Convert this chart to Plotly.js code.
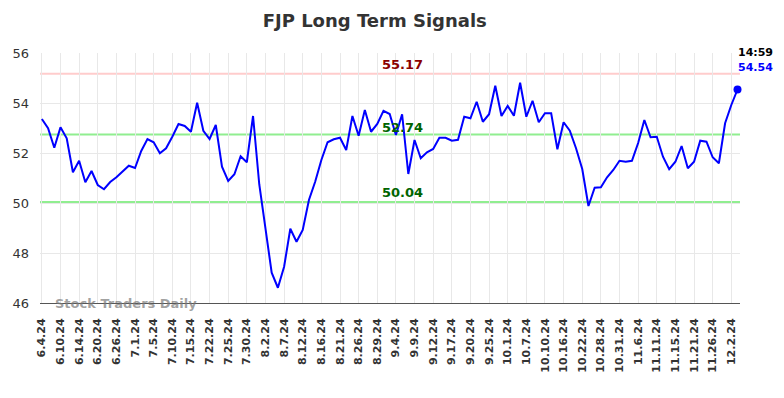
<!DOCTYPE html>
<html>
<head>
<meta charset="utf-8">
<script src="https://cdn.plot.ly/plotly-3.0.1.min.js"></script>
<style>html,body{margin:0;padding:0;background:#fff;}#chart{width:784px;height:398px;}</style>
</head>
<body>
<div id="chart"></div>
<script>
const values = [
  53.36, 52.99, 52.21, 53.03, 52.59, 51.23, 51.69, 50.83, 51.28, 50.72,
  50.55, 50.84, 51.03, 51.28, 51.49, 51.40, 52.08, 52.56, 52.43, 51.99,
  52.19, 52.65, 53.16, 53.08, 52.85, 54.01, 52.89, 52.56, 53.12, 51.45,
  50.88, 51.15, 51.87, 51.63, 53.48, 50.75, 48.92, 47.21, 46.61, 47.45,
  48.97, 48.45, 48.92, 50.12, 50.85, 51.72, 52.43, 52.55, 52.61, 52.12,
  53.48, 52.69, 53.72, 52.85, 53.16, 53.69, 53.56, 52.72, 53.55, 51.16,
  52.52, 51.79, 52.03, 52.16, 52.61, 52.61, 52.49, 52.53, 53.45, 53.39,
  54.05, 53.25, 53.55, 54.69, 53.48, 53.88, 53.49, 54.81, 53.45, 54.09,
  53.23, 53.59, 53.59, 52.15, 53.23, 52.89, 52.19, 51.36, 49.88, 50.61,
  50.63, 51.03, 51.32, 51.69, 51.65, 51.69, 52.40, 53.32, 52.63, 52.65,
  51.85, 51.35, 51.65, 52.28, 51.39, 51.65, 52.49, 52.45, 51.83, 51.59,
  53.19, 53.92, 54.54
];
const tickLabels = [
  "6.4.24","6.10.24","6.14.24","6.20.24","6.26.24","7.1.24","7.5.24","7.10.24",
  "7.15.24","7.22.24","7.25.24","7.30.24","8.2.24","8.7.24","8.12.24","8.16.24",
  "8.21.24","8.26.24","8.29.24","9.4.24","9.9.24","9.12.24","9.17.24","9.20.24",
  "9.25.24","10.1.24","10.7.24","10.10.24","10.16.24","10.22.24","10.28.24","10.31.24",
  "11.6.24","11.11.24","11.15.24","11.21.24","11.26.24","12.2.24"
];
const tickStep = 3;
const resistance = 55.17;
const supportHigh = 52.74;
const supportLow = 50.04;
const lastTime = "14:59";

const xs = values.map((v, i) => i);
const tickVals = tickLabels.map((t, i) => i * tickStep);
const lastIdx = values.length - 1;
const lastVal = values[lastIdx];
const labelX = 58;

const traces = [
  {x: xs, y: values, type: 'scatter', mode: 'lines',
   line: {color: '#0000ff', width: 2}, hoverinfo: 'skip'},
  {x: [lastIdx], y: [lastVal], type: 'scatter', mode: 'markers', cliponaxis: false,
   marker: {color: '#0000ff', size: 8}, hoverinfo: 'skip'}
];

const hline = (y, color) => ({type: 'line', xref: 'paper', x0: 0, x1: 1, y0: y, y1: y,
  line: {color: color, width: 2}, layer: 'below'});

const layout = {
  width: 784, height: 398,
  margin: {l: 40, r: 44, t: 53, b: 95},
  paper_bgcolor: '#ffffff', plot_bgcolor: '#ffffff',
  showlegend: false,
  title: {text: 'FJP Long Term Signals', x: 0.478, xanchor: 'center', y: 0.965, yanchor: 'top',
    font: {family: 'DejaVu Sans', size: 18, color: '#333333', weight: 'bold'}},
  xaxis: {range: [-0.3, 112.4], tickvals: tickVals, ticktext: tickLabels, tickangle: -90,
    showgrid: true, gridcolor: '#e8e8e8', gridwidth: 1, zeroline: false,
    showline: true, linecolor: '#555555', linewidth: 1,
    ticks: '', ticklabelstandoff: 10,
    tickfont: {family: 'DejaVu Sans', size: 11, color: '#333333', weight: 'bold'}},
  yaxis: {range: [46, 56], tickvals: [46, 48, 50, 52, 54, 56],
    showgrid: true, gridcolor: '#e8e8e8', gridwidth: 1, zeroline: false,
    showline: false, ticks: '', ticklabelstandoff: 10,
    tickfont: {family: 'DejaVu Sans', size: 13, color: '#333333'}},
  shapes: [hline(resistance, '#ffcccc'), hline(supportHigh, '#90ee90'), hline(supportLow, '#90ee90')],
  annotations: [
    {x: labelX, y: resistance, xref: 'x', yref: 'y', text: resistance.toFixed(2), showarrow: false,
     yanchor: 'bottom', yshift: 0, font: {family: 'DejaVu Sans', size: 13, color: '#8b0000', weight: 'bold'}},
    {x: labelX, y: supportHigh, xref: 'x', yref: 'y', text: supportHigh.toFixed(2), showarrow: false,
     yanchor: 'middle', yshift: 7, font: {family: 'DejaVu Sans', size: 13, color: '#006400', weight: 'bold'}},
    {x: labelX, y: supportLow, xref: 'x', yref: 'y', text: supportLow.toFixed(2), showarrow: false,
     yanchor: 'bottom', yshift: 0, font: {family: 'DejaVu Sans', size: 13, color: '#006400', weight: 'bold'}},
    {x: lastIdx, y: lastVal, xref: 'x', yref: 'y', text: lastTime, showarrow: false,
     xanchor: 'left', yanchor: 'bottom', xshift: -2, yshift: 29,
     font: {family: 'DejaVu Sans', size: 11, color: '#000000', weight: 'bold'}},
    {x: lastIdx, y: lastVal, xref: 'x', yref: 'y', text: lastVal.toFixed(2), showarrow: false,
     xanchor: 'left', yanchor: 'bottom', xshift: -2, yshift: 14,
     font: {family: 'DejaVu Sans', size: 11, color: '#0000ff', weight: 'bold'}},
    {x: 0.018, y: 46, xref: 'paper', yref: 'y', text: 'Stock Traders Daily', showarrow: false,
     xanchor: 'left', yanchor: 'middle', yshift: 0,
     font: {family: 'DejaVu Sans', size: 13, color: 'rgba(120,120,120,0.7)', weight: 'bold'}}
  ]
};

Plotly.newPlot('chart', traces, layout, {staticPlot: true, displayModeBar: false});
</script>
</body>
</html>
